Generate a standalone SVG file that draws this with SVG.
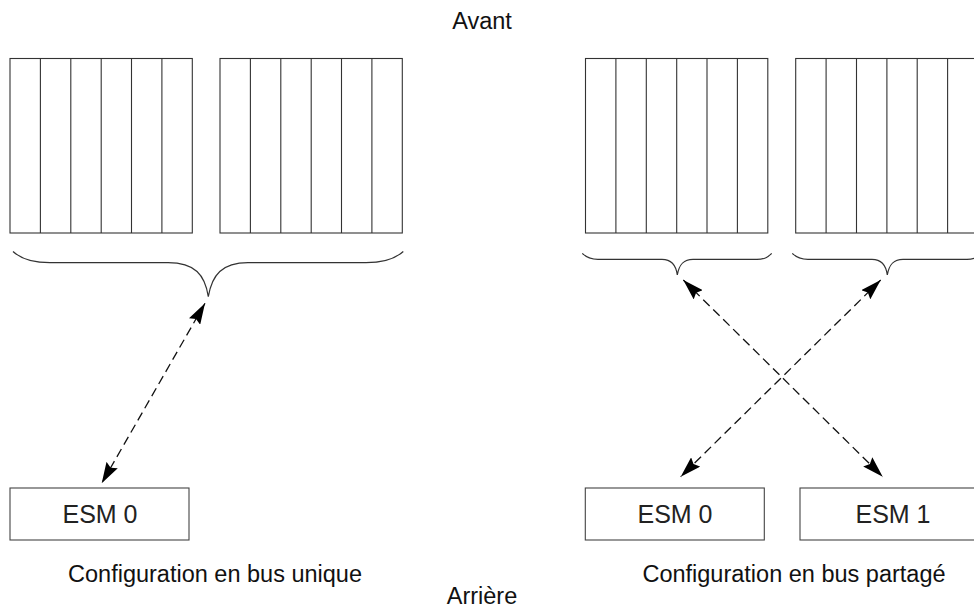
<svg xmlns="http://www.w3.org/2000/svg" width="974" height="609" viewBox="0 0 974 609">
<style>
  .bay { fill: #fff; stroke: #333; stroke-width: 1.1; }
  .div { stroke: #333; stroke-width: 1.1; }
  .brace { fill: none; stroke: #333; stroke-width: 1.2; }
  .box { fill: #fff; stroke: #444; stroke-width: 1.1; }
  .lbl { font-family: "Liberation Sans", Arial, Helvetica, sans-serif; font-size: 23.5px; fill: #111; text-anchor: middle; }
  .esm { font-family: "Liberation Sans", Arial, Helvetica, sans-serif; font-size: 25px; fill: #222; text-anchor: middle; }
  .conn { fill: none; stroke: #111; stroke-width: 1.3; stroke-dasharray: 9 5; marker-start: url(#ah); marker-end: url(#ah); }
</style>
<defs>
  <marker id="ah" markerWidth="21" markerHeight="13" refX="21" refY="6.5" orient="auto-start-reverse" markerUnits="userSpaceOnUse" viewBox="0 0 21 13">
    <path d="M0,0 L21,6.5 L0,13 L3,6.5 z" fill="#000"/>
  </marker>
</defs>
<rect width="974" height="609" fill="#fff"/>

<g id="label-avant"><text class="lbl" x="482" y="29">Avant</text></g>
<g id="label-arriere"><text class="lbl" x="482" y="604">Arrière</text></g>

<g id="bay-left-1">
  <rect class="bay" x="10" y="58.5" width="182.3" height="174.5"/>
  <path class="div" d="M40.4,58.5V233M70.8,58.5V233M101.2,58.5V233M131.5,58.5V233M161.9,58.5V233"/>
</g>
<g id="bay-left-2">
  <rect class="bay" x="220" y="58.5" width="182.3" height="174.5"/>
  <path class="div" d="M250.4,58.5V233M280.8,58.5V233M311.2,58.5V233M341.5,58.5V233M371.9,58.5V233"/>
</g>
<g id="bay-right-1">
  <rect class="bay" x="585.5" y="58.5" width="182.3" height="174.5"/>
  <path class="div" d="M615.9,58.5V233M646.3,58.5V233M676.7,58.5V233M707,58.5V233M737.4,58.5V233"/>
</g>
<g id="bay-right-2">
  <rect class="bay" x="795.7" y="58.5" width="182.3" height="174.5"/>
  <path class="div" d="M826.1,58.5V233M856.5,58.5V233M886.9,58.5V233M917.2,58.5V233M947.6,58.5V233"/>
</g>

<g id="brace-left">
  <path class="brace" d="M13,251.5 C20,258 32,262.7 50,262.7 L168,262.7 C195,262.7 205,275 208.3,296.7 C212,275 222,262.7 248,262.7 L366,262.7 C384,262.7 396,258 403.3,251.5"/>
</g>
<g id="brace-right-1">
  <path class="brace" d="M582.3,253.3 C586,257 590,259.3 598,259.3 L662,259.3 C672,259.3 676,265 677.3,275 C679,265 683,259.3 693,259.3 L757,259.3 C765,259.3 768,257 771.7,253.3"/>
</g>
<g id="brace-right-2">
  <path class="brace" d="M792.3,253.3 C796,257 800,259.3 808,259.3 L872,259.3 C882,259.3 886,265 887.3,275 C889,265 893,259.3 903,259.3 L967,259.3 C975,259.3 978,257 981.7,253.3"/>
</g>

<g id="esm0-single">
  <rect class="box" x="10" y="488" width="179" height="52"/>
  <text class="esm" x="100" y="523.3">ESM 0</text>
</g>
<g id="esm0-shared">
  <rect class="box" x="585.3" y="488" width="179" height="52"/>
  <text class="esm" x="675" y="523.3">ESM 0</text>
</g>
<g id="esm1-shared">
  <rect class="box" x="800" y="488" width="179" height="52"/>
  <text class="esm" x="893" y="523.3">ESM 1</text>
</g>

<g id="caption-single"><text class="lbl" x="215" y="581.5">Configuration en bus unique</text></g>
<g id="caption-shared"><text class="lbl" x="794" y="581.5">Configuration en bus partagé</text></g>

<g id="connectors">
  <line class="conn" x1="205" y1="303.3" x2="101.7" y2="483.3"/>
  <line class="conn" x1="683.3" y1="280" x2="882.7" y2="476.7"/>
  <line class="conn" x1="880.7" y1="280" x2="680.7" y2="476.7"/>
</g>
</svg>
